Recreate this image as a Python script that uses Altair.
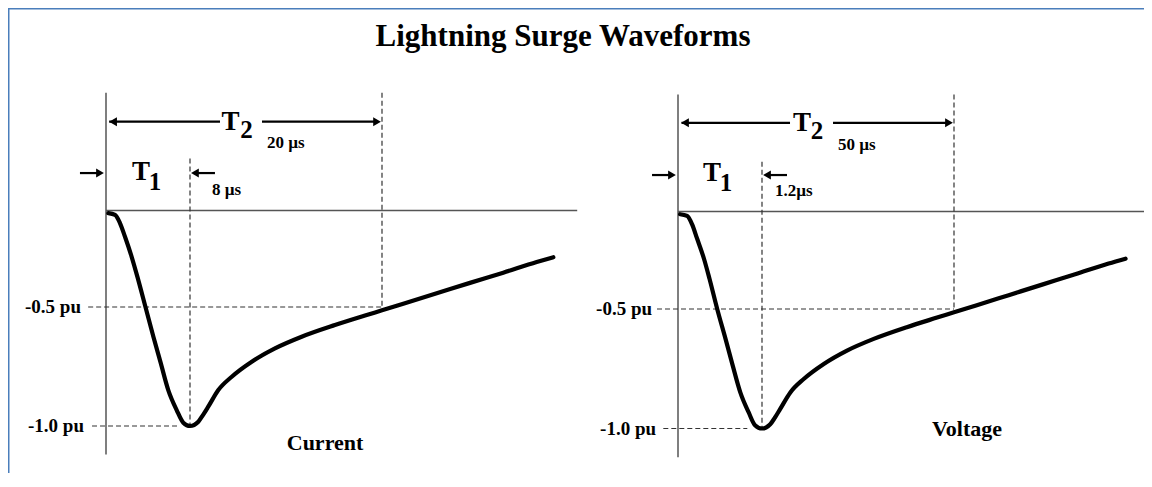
import altair as alt
import pandas as pd

# ---------------- data ----------------
title_text = "Lightning Surge Waveforms"

# Current waveform 8/20 us (time in us, value in pu)
t_current = [0.22, 0.86, 1.33, 1.81, 2.45, 3.0, 3.76, 4.52, 5.21, 5.93, 6.73, 7.36, 8.0,
             8.52, 8.81, 9.14, 9.77, 10.61, 11.86, 13.31, 14.98, 17.06, 18.94, 20.0,
             21.33, 23.42, 25.5, 27.58, 29.67, 30.71]
pu_current = [-0.014, -0.023, -0.065, -0.136, -0.241, -0.345, -0.5, -0.626, -0.735, -0.849,
              -0.933, -0.986, -1.0, -0.982, -0.954, -0.919, -0.849, -0.793, -0.73, -0.674,
              -0.625, -0.576, -0.536, -0.514, -0.483, -0.429, -0.375, -0.322, -0.267, -0.242]

# Voltage waveform 1.2/50 us
t_voltage = [0.03, 0.13, 0.2, 0.27, 0.37, 0.45, 0.56, 0.68, 0.78, 0.89, 1.01, 1.1, 1.2,
             3.3, 4.5, 5.8, 8.4, 11.8, 16.9, 22.8, 29.6, 38.0, 45.7, 50.0,
             55.4, 63.9, 72.4, 80.8, 89.3, 93.6]
pu_voltage = [-0.014, -0.023, -0.065, -0.136, -0.241, -0.345, -0.5, -0.626, -0.735, -0.849,
              -0.933, -0.986, -1.0, -0.982, -0.954, -0.919, -0.849, -0.793, -0.73, -0.674,
              -0.625, -0.576, -0.536, -0.514, -0.483, -0.429, -0.375, -0.322, -0.267, -0.242]

panel_names = ["Current", "Voltage"]
t1_values = [8.0, 1.2]          # front time T1 (us)
t2_values = [20.0, 50.0]        # time to half value T2 (us)
t1_labels = ["8 \u00b5s", "1.2\u00b5s"]
t2_labels = ["20 \u00b5s", "50 \u00b5s"]
level_values = [-0.5, -1.0]
level_labels = ["-0.5 pu", "-1.0 pu"]

# ---------------- layout (schematic, non-linear axes) ----------------
FONT = "Liberation Serif"
# piecewise scales: [0, T1, T2] and [-1, -0.5, 0]
x_ranges = [[98, 182, 374], [670, 754, 946]]
y_ranges = [[418, 299, 202.5], [420.5, 301, 203.5]]

# annotation anchor positions in each panel's data units
ann = [
    dict(axis_top=0.61, axis_bot=-1.12, zero_end=32.2, t1_top=0.27, t2_top=0.61,
         h05_start=-1.7, h10_start=-1.33, h10_end=7.05,
         arr2_y=0.46, arr2_l=(0.3, 9.875), arr2_r=(12.5, 19.7), head2=(0.67, 19.69),
         arr1_y=0.194, arr1_l=(-2.48, -0.57), arr1_r=(8.31, 9.56), head1=(-0.57, 8.31),
         T2=(10.53, 0.417), sub2=(11.53, 0.376), t2lab=(12.81, 0.324),
         T1=(3.33, 0.158), sub1=(4.67, 0.106), t1lab=(9.375, 0.08),
         lab05=-2.38, lab10=-2.1, name=(16.44, -1.071)),
    dict(axis_top=0.6, axis_bot=-1.12, zero_end=99.3, t1_top=0.255, t2_top=0.6,
         h05_start=-0.3, h10_start=-0.21, h10_end=0.99,
         arr2_y=0.455, arr2_l=(0.05, 8.32), arr2_r=(19.25, 48.9), head2=(0.1, 48.73),
         arr1_y=0.187, arr1_l=(-0.371, -0.086), arr1_r=(2.47, 7.55), head1=(-0.086, 2.47),
         T2=(11.37, 0.413), sub2=(15.18, 0.372), t2lab=(20.52, 0.315),
         T1=(0.486, 0.156), sub1=(0.686, 0.105), t1lab=(4.5, 0.08),
         lab05=-0.371, lab10=-0.314, name=(53.3, -1.0)),
]


def panel(i, t_vals, pu_vals):
    a = ann[i]
    xs = alt.Scale(domain=[0, t1_values[i], t2_values[i]], range=x_ranges[i], nice=False, zero=False)
    ys = alt.Scale(domain=[-1.0, -0.5, 0.0], range=y_ranges[i], nice=False, zero=False)
    X = alt.X("t:Q", scale=xs, axis=None)
    Y = alt.Y("pu:Q", scale=ys, axis=None)

    T1, T2 = t1_values[i], t2_values[i]
    solid = pd.DataFrame([
        dict(t=0, t2=0, pu=a["axis_top"], pu2=a["axis_bot"], c="#555555", w=1.5),
        dict(t=0, t2=a["zero_end"], pu=0, pu2=0, c="#555555", w=1.4),
        dict(t=a["arr2_l"][0], t2=a["arr2_l"][1], pu=a["arr2_y"], pu2=a["arr2_y"], c="#000000", w=2.2),
        dict(t=a["arr2_r"][0], t2=a["arr2_r"][1], pu=a["arr2_y"], pu2=a["arr2_y"], c="#000000", w=2.2),
        dict(t=a["arr1_l"][0], t2=a["arr1_l"][1], pu=a["arr1_y"], pu2=a["arr1_y"], c="#000000", w=2.2),
        dict(t=a["arr1_r"][0], t2=a["arr1_r"][1], pu=a["arr1_y"], pu2=a["arr1_y"], c="#000000", w=2.2),
    ])
    dashed = pd.DataFrame([
        dict(t=T1, t2=T1, pu=a["t1_top"], pu2=-1.0),
        dict(t=T2, t2=T2, pu=a["t2_top"], pu2=-0.5),
        dict(t=a["h05_start"], t2=T2, pu=-0.5, pu2=-0.5),
        dict(t=a["h10_start"], t2=a["h10_end"], pu=-1.0, pu2=-1.0),
    ])
    heads = pd.DataFrame([
        dict(t=a["head2"][0], pu=a["arr2_y"], shape="triangle-left"),
        dict(t=a["head2"][1], pu=a["arr2_y"], shape="triangle-right"),
        dict(t=a["head1"][0], pu=a["arr1_y"], shape="triangle-right"),
        dict(t=a["head1"][1], pu=a["arr1_y"], shape="triangle-left"),
    ])
    txt_center = pd.DataFrame([
        dict(t=a["T2"][0], pu=a["T2"][1], label="T", size=27),
        dict(t=a["sub2"][0], pu=a["sub2"][1], label="2", size=25),
        dict(t=a["T1"][0], pu=a["T1"][1], label="T", size=27),
        dict(t=a["sub1"][0], pu=a["sub1"][1], label="1", size=25),
    ])
    txt_left = pd.DataFrame([
        dict(t=a["t2lab"][0], pu=a["t2lab"][1], label=t2_labels[i], size=17),
        dict(t=a["t1lab"][0], pu=a["t1lab"][1], label=t1_labels[i], size=17),
    ])
    txt_right = pd.DataFrame([
        dict(t=a["lab05"], pu=level_values[0], label=level_labels[0], size=19),
        dict(t=a["lab10"], pu=level_values[1], label=level_labels[1], size=19),
    ])
    txt_name = pd.DataFrame([dict(t=a["name"][0], pu=a["name"][1], label=panel_names[i], size=22)])
    curve = pd.DataFrame({"t": t_vals, "pu": pu_vals})

    layers = [
        alt.Chart(solid).mark_rule().encode(
            x=X, x2="t2:Q", y=Y, y2="pu2:Q",
            color=alt.Color("c:N", scale=None),
            strokeWidth=alt.StrokeWidth("w:Q", scale=None)),
        alt.Chart(dashed).mark_rule(color="#333333", strokeWidth=1.2, strokeDash=[5, 3]).encode(
            x=X, x2="t2:Q", y=Y, y2="pu2:Q"),
        alt.Chart(heads).mark_point(filled=True, color="#000000", opacity=1, size=80).encode(
            x=X, y=Y, shape=alt.Shape("shape:N", scale=None)),
        alt.Chart(curve).mark_line(color="#000000", strokeWidth=4.2, interpolate="monotone",
                                   strokeCap="round", strokeJoin="round").encode(x=X, y=Y),
        alt.Chart(txt_center).mark_text(font=FONT, fontWeight="bold", align="center",
                                        baseline="alphabetic", color="#000000").encode(
            x=X, y=Y, text="label:N", size=alt.Size("size:Q", scale=None)),
        alt.Chart(txt_left).mark_text(font=FONT, fontWeight="bold", align="left",
                                      baseline="alphabetic", color="#000000").encode(
            x=X, y=Y, text="label:N", size=alt.Size("size:Q", scale=None)),
        alt.Chart(txt_right).mark_text(font=FONT, fontWeight="bold", align="right",
                                       baseline="middle", color="#000000").encode(
            x=X, y=Y, text="label:N", size=alt.Size("size:Q", scale=None)),
        alt.Chart(txt_name).mark_text(font=FONT, fontWeight="bold", align="center",
                                      baseline="middle", color="#000000").encode(
            x=X, y=Y, text="label:N", size=alt.Size("size:Q", scale=None)),
    ]
    return alt.layer(*layers)


left = panel(0, t_current, pu_current)
right = panel(1, t_voltage, pu_voltage)

one = pd.DataFrame({"label": [title_text]})
title = alt.Chart(one).mark_text(font=FONT, fontWeight="bold", fontSize=31, align="center",
                                 baseline="middle", color="#000000").encode(
    text="label:N", x=alt.value(555), y=alt.value(29))
frame_left = alt.Chart(one).mark_rule(color="#4a7ebb", strokeWidth=2).encode(
    x=alt.value(0.5), y=alt.value(0), y2=alt.value(465))
frame_top = alt.Chart(one).mark_rule(color="#4a7ebb", strokeWidth=2).encode(
    y=alt.value(0.5), x=alt.value(0), x2=alt.value(1136))

chart = alt.layer(left, right, title, frame_left, frame_top).resolve_scale(
    x="independent", y="independent"
).properties(
    width=1136, height=465, padding=0,
    autosize=alt.AutoSizeParams(type="none"),
    background="#ffffff",
).configure_view(stroke=None)

chart.save("out.html", embed_options={"renderer": "svg", "actions": False})
